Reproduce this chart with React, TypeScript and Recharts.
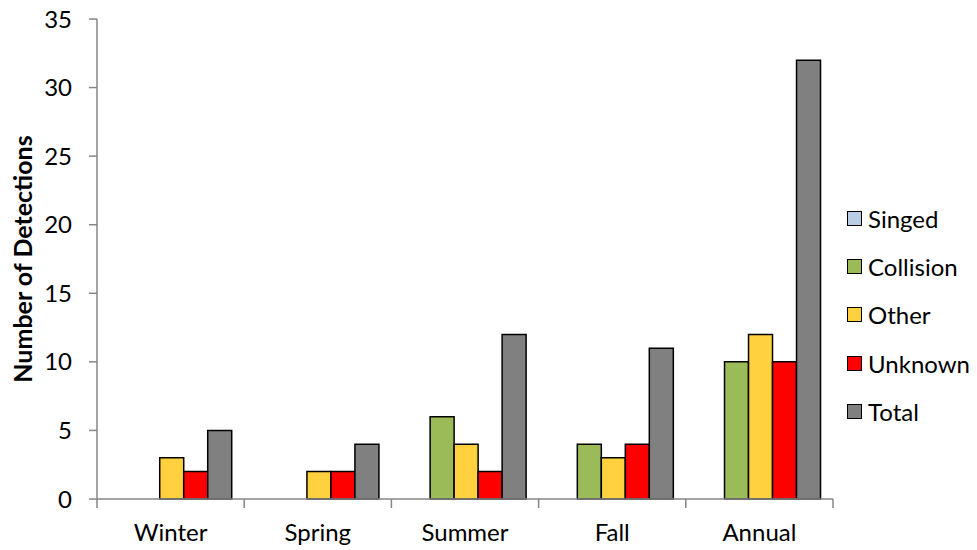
import React from 'react';
import { BarChart, Bar, XAxis, YAxis, Legend } from 'recharts';

const seasons = ['Winter', 'Spring', 'Summer', 'Fall', 'Annual'];
const singed = [0, 0, 0, 0, 0];
const collision = [0, 0, 6, 4, 10];
const other = [3, 2, 4, 3, 12];
const unknown = [2, 2, 2, 4, 10];
const total = [5, 4, 12, 11, 32];
const yTicks = [0, 5, 10, 15, 20, 25, 30, 35];

const series = [
  { key: 'Singed', values: singed, color: '#B9CDE5' },
  { key: 'Collision', values: collision, color: '#9BBB59' },
  { key: 'Other', values: other, color: '#FFD13F' },
  { key: 'Unknown', values: unknown, color: '#FF0000' },
  { key: 'Total', values: total, color: '#808080' },
];

const data = seasons.map((season, i) => {
  const row: Record<string, string | number> = { season };
  series.forEach((s) => {
    row[s.key] = s.values[i];
  });
  return row;
});

const FONT = 'Lato, "Open Sans", sans-serif';
const AXIS_COLOR = '#868686';

// category label in the middle, tick marks on the band edges
const SeasonTick = (props: any) => {
  const { x, y, payload } = props;
  const half = payload.offset ?? 0;
  const axisY = y - 10;
  const last = payload.index === seasons.length - 1;
  return (
    <g>
      <line x1={x - half} y1={axisY} x2={x - half} y2={axisY + 9} stroke={AXIS_COLOR} strokeWidth={1.5} />
      {last && (
        <line x1={x + half} y1={axisY} x2={x + half} y2={axisY + 9} stroke={AXIS_COLOR} strokeWidth={1.5} />
      )}
      <text x={x} y={axisY + 42} textAnchor="middle" fontSize={24} fontFamily={FONT} fill="#000">
        {payload.value}
      </text>
    </g>
  );
};

const LegendBox = () => (
  <div style={{ fontFamily: FONT, fontSize: 24, color: '#000' }}>
    {series.map((s) => (
      <div key={s.key} style={{ display: 'flex', alignItems: 'center', height: 48.3 }}>
        <span
          style={{
            width: 13,
            height: 13,
            background: s.color,
            border: '1.5px solid #000',
            marginRight: 6,
            display: 'inline-block',
          }}
        />
        <span>{s.key}</span>
      </div>
    ))}
  </div>
);

const YTitle = (props: any) => {
  const { viewBox } = props;
  const cx = viewBox.x - 15;
  const cy = viewBox.y + viewBox.height / 2;
  return (
    <text
      x={cx}
      y={cy}
      transform={`rotate(-90, ${cx}, ${cy})`}
      textAnchor="middle"
      dominantBaseline="central"
      fontSize={25}
      fontWeight="bold"
      fontFamily={FONT}
      fill="#000"
    >
      Number of Detections
    </text>
  );
};

export default function App() {
  return (
    <div style={{ position: 'absolute', left: 0, top: 0, background: '#fff' }}>
      <BarChart
        width={977}
        height={550}
        data={data}
        margin={{ top: 19, right: 144, bottom: 0, left: 37 }}
        barCategoryGap="10%"
        barGap={0}
      >
        <XAxis
          dataKey="season"
          axisLine={{ stroke: AXIS_COLOR, strokeWidth: 1.5 }}
          tickLine={false}
          tick={<SeasonTick />}
          tickSize={0}
          tickMargin={10}
          height={51}
          interval={0}
        />
        <YAxis
          domain={[0, 35]}
          ticks={yTicks}
          interval={0}
          width={60}
          axisLine={{ stroke: AXIS_COLOR, strokeWidth: 1.5 }}
          tickLine={{ stroke: AXIS_COLOR, strokeWidth: 1.5 }}
          tickSize={8}
          tickMargin={17}
          tick={{ fontSize: 24, fontFamily: FONT, fill: '#000' }}
          label={<YTitle />}
        />
        <Legend
          layout="vertical"
          align="center"
          verticalAlign="middle"
          content={<LegendBox />}
          wrapperStyle={{ left: 847, top: 194, width: 130 }}
        />
        {series.map((s) => (
          <Bar
            key={s.key}
            dataKey={s.key}
            fill={s.color}
            stroke="#000"
            strokeWidth={1.5}
            isAnimationActive={false}
          />
        ))}
      </BarChart>
    </div>
  );
}
